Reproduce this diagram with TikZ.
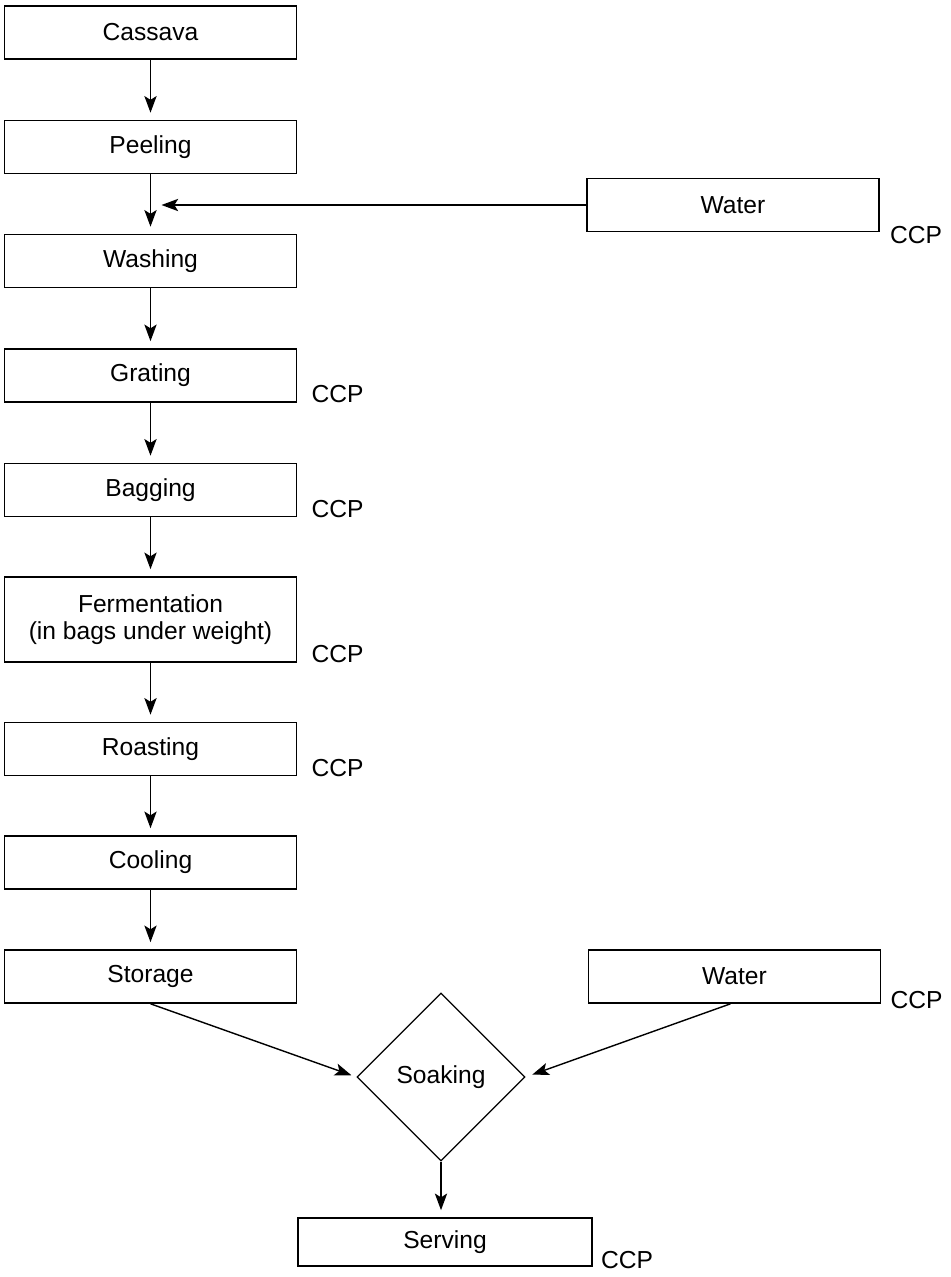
\documentclass[tikz,border=0pt]{standalone}
\usepackage{fontspec}
\setmainfont{Liberation Sans}
\usetikzlibrary{arrows.meta, positioning, shapes.geometric, calc}

\begin{document}
\begin{tikzpicture}[
    stepbox/.style={draw,line width=0.9pt,minimum width=5.84cm,minimum height=1.06cm,
      inner sep=2pt,align=center,font=\fontsize{14}{15}\selectfont},
    soakbox/.style={draw,diamond,line width=0.7pt,minimum width=3.36cm,
      minimum height=3.36cm,inner sep=0pt,font=\fontsize{14}{15}\selectfont},
    ccp/.style={anchor=base west,inner sep=0pt,font=\fontsize{14}{15}\selectfont},
    arrow/.style={-{Stealth[length=9.5pt,width=7pt,inset=2.2pt]},line width=0.8pt,
      shorten >=4pt},
  ]
  \useasboundingbox (0,0) rectangle (19.02,-25.54);

  % Main line
  \node[stepbox] (cass) at (3.01,-0.65) {Cassava};
  \node[stepbox] (peel) at (3.01,-2.94) {Peeling};
  \node[stepbox] (wash) at (3.01,-5.22) {Washing};
  \node[stepbox] (grat) at (3.01,-7.51) {Grating};
  \node[stepbox] (bagg) at (3.01,-9.80) {Bagging};
  \node[stepbox,minimum height=1.7cm] (ferm) at (3.01,-12.39)
    {Fermentation\\(in bags under weight)};
  \node[stepbox] (roas) at (3.01,-14.98) {Roasting};
  \node[stepbox] (cool) at (3.01,-17.25) {Cooling};
  \node[stepbox] (stor) at (3.01,-19.53) {Storage};

  % Water inputs
  \node[stepbox] (wat1) at (14.66,-4.10) {Water};
  \node[stepbox] (wat2) at (14.69,-19.53) {Water};

  % Soaking and serving
  \node[soakbox] (soak) at (8.82,-21.54) {Soaking};
  \node[stepbox,minimum width=5.88cm,minimum height=0.96cm] (serv) at (8.90,-24.84) {Serving};

  % CCP marks
  \node[ccp] (ccpw1) at ([xshift=0.2cm,yshift=-0.22cm]wat1.south east) {CCP};
  \node[ccp] (ccpgr) at ([xshift=0.28cm]grat.south east) {CCP};
  \node[ccp] (ccpba) at ([xshift=0.28cm]bagg.south east) {CCP};
  \node[ccp] (ccpfe) at ([xshift=0.28cm]ferm.south east) {CCP};
  \node[ccp] (ccpro) at ([xshift=0.28cm]roas.south east) {CCP};
  \node[ccp] (ccpw2) at ([xshift=0.18cm,yshift=-0.1cm]wat2.south east) {CCP};
  \node[ccp] (ccpse) at ([xshift=0.16cm,yshift=-0.04cm]serv.south east) {CCP};

  % Main line arrows
  \draw[arrow] (cass) -- (peel);
  \draw[arrow] (peel) -- (wash);
  \draw[arrow] (wash) -- (grat);
  \draw[arrow] (grat) -- (bagg);
  \draw[arrow] (bagg) -- (ferm);
  \draw[arrow] (ferm) -- (roas);
  \draw[arrow] (roas) -- (cool);
  \draw[arrow] (cool) -- (stor);

  % Water into washing
  \coordinate (wjoin) at ([xshift=0.22cm]peel.south |- wat1.west);
  \draw[arrow,shorten >=0pt] (wat1.west) -- (wjoin);

  % Into soaking
  \draw[arrow,shorten >=3pt] (stor.south) -- (soak.west);
  \draw[arrow,shorten >=4pt] ([xshift=-0.08cm]wat2.south) -- (soak.east);
  \draw[arrow] (soak.south) -- (soak.south |- serv.north);

\end{tikzpicture}
\end{document}
